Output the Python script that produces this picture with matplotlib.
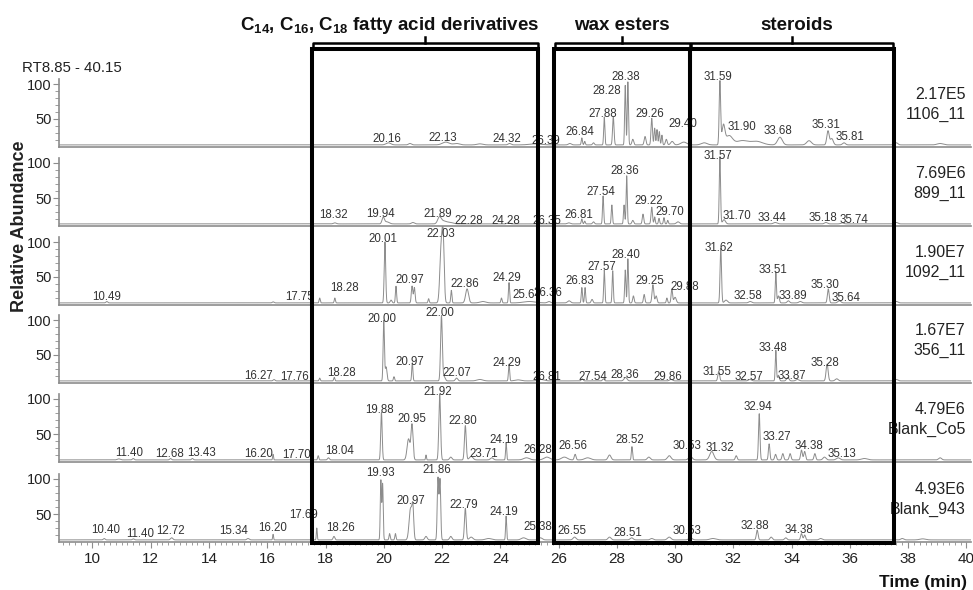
import numpy as np
import matplotlib
matplotlib.use("Agg")
import matplotlib.pyplot as plt
from matplotlib.patches import Rectangle
from matplotlib.ticker import MultipleLocator, FixedLocator

plt.rcParams['font.family'] = ['Liberation Sans', 'DejaVu Sans']
plt.rcParams['mathtext.fontset'] = 'custom'
plt.rcParams['mathtext.rm'] = 'Liberation Sans'
plt.rcParams['mathtext.bf'] = 'Liberation Sans:bold'

# ---------------- data ----------------
sample_names = ["1106_11", "899_11", "1092_11", "356_11", "Blank_Co5", "Blank_943"]
norm_levels = ["2.17E5", "7.69E6", "1.90E7", "1.67E7", "4.79E6", "4.93E6"]

# compound class windows (min)
class_names = [r"$\mathbf{C}_{\mathbf{14}}$, $\mathbf{C}_{\mathbf{16}}$, $\mathbf{C}_{\mathbf{18}}$ fatty acid derivatives",
               "wax esters", "steroids"]
class_start = [17.55, 25.84, 30.53]
class_end = [25.31, 30.53, 37.51]

# peaks: (retention time, height above baseline, width)
peaks_1106 = [(20.16, 3, 0.08), (20.9, 2, 0.05), (22.13, 4, 0.12), (22.5, 2, 0.1), (23.3, 1.5, 0.1),
              (24.32, 2, 0.05), (25.2, 1.5, 0.2), (26.39, 2, 0.05), (26.80, 10, 0.02), (26.9, 5, 0.02),
              (27.2, 3, 0.03), (27.57, 40, 0.02), (27.88, 40, 0.025), (28.29, 85, 0.02), (28.38, 90, 0.02),
              (28.55, 8, 0.03), (28.97, 12, 0.03), (29.20, 38, 0.025), (29.3, 24, 0.02), (29.38, 22, 0.02),
              (29.46, 19, 0.02), (29.55, 14, 0.02), (29.7, 8, 0.03), (29.9, 5, 0.05), (30.3, 4, 0.1),
              (31.0, 3, 0.1), (31.54, 90, 0.025), (31.66, 26, 0.05), (31.85, 13, 0.12), (32.3, 6, 0.2),
              (32.8, 5, 0.2), (33.6, 11, 0.08), (34.6, 6, 0.08), (35.25, 20, 0.04), (35.38, 9, 0.05),
              (35.8, 3, 0.05), (37.6, 3, 0.05), (39.1, 2, 0.1)]
peaks_899 = [(18.32, 1.5, 0.05), (19.98, 9, 0.04), (20.1, 3, 0.08), (21.0, 2, 0.05), (21.91, 9, 0.06),
             (22.05, 4, 0.1), (22.28, 2, 0.1), (24.28, 1.5, 0.05), (26.35, 1.5, 0.05), (26.80, 7, 0.02),
             (26.9, 4, 0.02), (27.2, 3, 0.03), (27.53, 40, 0.02), (27.83, 27, 0.02), (28.25, 27, 0.02),
             (28.34, 69, 0.02), (28.55, 5, 0.03), (28.90, 14, 0.025), (29.20, 24, 0.025), (29.3, 10, 0.02),
             (29.45, 8, 0.02), (29.62, 9, 0.02), (29.75, 5, 0.02), (30.1, 3, 0.05), (31.54, 96, 0.022),
             (31.68, 6, 0.05), (33.44, 2, 0.06), (35.18, 2, 0.05), (35.74, 1.5, 0.05), (37.6, 2, 0.05)]
peaks_1092 = [(10.49, 2, 0.03), (16.2, 1.5, 0.03), (17.8, 7, 0.02), (18.32, 7, 0.02), (20.04, 87, 0.025),
              (20.25, 4, 0.03), (20.42, 24, 0.02), (20.97, 24, 0.025), (21.05, 22, 0.025), (21.54, 6, 0.02),
              (21.97, 78, 0.045), (22.04, 82, 0.035), (22.32, 18, 0.02), (22.86, 20, 0.05), (23.4, 2, 0.1),
              (24.04, 7, 0.02), (24.30, 29, 0.02), (25.0, 2, 0.2), (25.67, 2, 0.05), (26.36, 3, 0.05),
              (26.80, 22, 0.02), (26.91, 22, 0.02), (27.15, 5, 0.03), (27.57, 47, 0.02), (27.86, 46, 0.02),
              (28.29, 47, 0.02), (28.38, 63, 0.02), (28.57, 10, 0.025), (28.94, 12, 0.025), (29.24, 26, 0.03),
              (29.35, 10, 0.03), (29.72, 7, 0.02), (29.89, 20, 0.025), (30.0, 8, 0.04), (31.57, 78, 0.025),
              (31.75, 4, 0.05), (32.58, 2, 0.05), (33.46, 44, 0.02), (33.55, 10, 0.03), (33.89, 3, 0.04),
              (34.3, 2, 0.05), (35.26, 20, 0.03), (35.64, 3, 0.05), (37.6, 2, 0.05)]
peaks_356 = [(16.23, 2, 0.03), (17.8, 4, 0.02), (18.3, 5, 0.02), (20.0, 86, 0.022), (20.08, 20, 0.03),
             (20.35, 6, 0.02), (20.98, 26, 0.02), (21.98, 93, 0.03), (22.07, 6, 0.04), (22.5, 4, 0.04),
             (23.3, 2, 0.1), (24.30, 24, 0.02), (24.6, 1.5, 0.1), (25.4, 2, 0.1), (26.81, 3, 0.03),
             (27.54, 3, 0.03), (28.3, 5, 0.05), (29.86, 2, 0.05), (31.5, 14, 0.03), (32.57, 2, 0.05),
             (33.46, 44, 0.02), (33.55, 8, 0.03), (33.87, 5, 0.04), (34.2, 2, 0.05), (35.22, 24, 0.035),
             (35.55, 3, 0.05), (37.6, 2, 0.05)]
peaks_co5 = [(10.9, 1.5, 0.05), (11.40, 2, 0.03), (12.68, 2, 0.03), (13.43, 2, 0.03), (16.20, 8, 0.015),
             (17.75, 6, 0.02), (18.1, 3, 0.03), (19.92, 68, 0.025), (20.85, 30, 0.05), (20.97, 50, 0.035),
             (21.45, 7, 0.015), (21.92, 94, 0.03), (22.3, 4, 0.04), (22.80, 49, 0.03), (23.0, 5, 0.06),
             (23.71, 3, 0.05), (24.20, 25, 0.018), (24.9, 3, 0.1), (25.6, 4, 0.1), (26.2, 4, 0.1),
             (26.57, 8, 0.03), (27.0, 3, 0.1), (27.75, 7, 0.05), (28.52, 19, 0.02), (29.1, 4, 0.05),
             (29.8, 6, 0.06), (30.53, 5, 0.06), (31.26, 12, 0.07), (32.1, 6, 0.03), (32.89, 66, 0.025),
             (33.23, 23, 0.025), (33.45, 8, 0.03), (33.7, 9, 0.03), (33.95, 9, 0.03), (34.34, 14, 0.03),
             (34.45, 12, 0.03), (34.8, 9, 0.03), (35.13, 4, 0.05), (35.6, 3, 0.06), (36.5, 2, 0.1),
             (39.1, 3, 0.05)]
peaks_943 = [(10.40, 2, 0.03), (11.40, 1.5, 0.03), (12.72, 3, 0.04), (15.34, 2, 0.04), (16.20, 8, 0.015),
             (17.70, 17, 0.015), (18.29, 5, 0.03), (19.90, 85, 0.02), (19.96, 80, 0.02), (20.2, 9, 0.02),
             (20.4, 9, 0.02), (20.92, 45, 0.05), (21.0, 40, 0.03), (21.45, 5, 0.04), (21.86, 88, 0.025),
             (21.93, 86, 0.025), (22.3, 5, 0.04), (22.80, 45, 0.03), (23.0, 4, 0.06), (23.6, 2, 0.1),
             (24.20, 34, 0.018), (24.8, 3, 0.08), (25.38, 3, 0.06), (26.55, 4, 0.05), (27.75, 4, 0.05),
             (28.51, 3, 0.05), (29.2, 2, 0.05), (29.8, 4, 0.06), (30.53, 3, 0.06), (31.3, 2, 0.1),
             (32.82, 14, 0.03), (33.3, 4, 0.04), (33.8, 3, 0.04), (34.34, 9, 0.03), (34.45, 7, 0.03),
             (35.0, 2, 0.05), (37.8, 2, 0.05), (38.5, 1.5, 0.1)]

# peak labels (retention time text)
labels_1106 = ["20.16", "22.13", "24.32", "26.39", "26.84", "27.88", "28.28", "28.38", "29.26", "29.40",
               "31.59", "31.90", "33.68", "35.31", "35.81"]
labels_899 = ["18.32", "19.94", "21.89", "22.28", "24.28", "26.35", "26.81", "27.54", "28.36", "29.22",
              "29.70", "31.57", "31.70", "33.44", "35.18", "35.74"]
labels_1092 = ["10.49", "17.75", "18.28", "20.01", "20.97", "22.03", "22.86", "24.29", "25.67", "26.36",
               "26.83", "27.57", "28.40", "29.25", "29.88", "31.62", "32.58", "33.51", "33.89", "35.30", "35.64"]
labels_356 = ["16.27", "17.76", "18.28", "20.00", "20.97", "22.00", "22.07", "24.29", "26.81", "27.54",
              "28.36", "29.86", "31.55", "32.57", "33.48", "33.87", "35.28"]
labels_co5 = ["11.40", "12.68", "13.43", "16.20", "17.70", "18.04", "19.88", "20.95", "21.92", "22.80",
              "23.71", "24.19", "26.28", "26.56", "28.52", "30.53", "31.32", "32.94", "33.27", "34.38", "35.13"]
labels_943 = ["10.40", "11.40", "12.72", "15.34", "16.20", "17.69", "18.26", "19.93", "20.97", "21.86",
              "22.79", "24.19", "25.38", "26.55", "28.51", "30.53", "32.88", "34.38"]

# ---------------- layout ----------------
# where each peak label sits (x in min, y in axis units)
labelpos_1106 = [(20.10, 21), (22.04, 23), (24.22, 21), (25.56, 19), (26.74, 32), (27.51, 57), (27.65, 90),
                 (28.31, 110), (29.14, 57), (30.26, 43), (31.46, 110), (32.29, 38), (33.54, 33), (35.18, 41),
                 (36.0, 24)]
labelpos_899 = [(18.27, 25), (19.90, 27), (21.84, 27), (22.92, 17), (24.18, 17), (25.61, 17), (26.71, 25),
                (27.46, 58), (28.26, 88), (29.11, 45), (29.83, 30), (31.46, 110), (32.14, 24), (33.32, 22),
                (35.07, 21), (36.15, 18)]
labelpos_1092 = [(10.49, 22), (17.12, 22), (18.64, 34), (19.96, 105), (20.90, 46), (21.96, 112), (22.79, 40),
                 (24.22, 48), (24.91, 24), (25.63, 27), (26.74, 45), (27.48, 65), (28.31, 81), (29.14, 45),
                 (30.32, 35), (31.51, 92), (32.49, 23), (33.37, 60), (34.04, 23), (35.15, 38), (35.87, 20)]
labelpos_356 = [(15.69, 20), (16.95, 18), (18.55, 25), (19.93, 102), (20.90, 40), (21.93, 110), (22.52, 24),
                (24.22, 39), (25.59, 18), (27.17, 19), (28.26, 22), (29.75, 18), (31.45, 26), (32.55, 18),
                (33.37, 60), (34.0, 20), (35.15, 39)]
labelpos_co5 = [(11.26, 23), (12.64, 21), (13.75, 23), (15.69, 21), (17.01, 20), (18.50, 25), (19.85, 84),
                (20.98, 71), (21.87, 110), (22.73, 68), (23.42, 22), (24.13, 42), (25.30, 27), (26.48, 33),
                (28.43, 41), (30.40, 33), (31.54, 30), (32.83, 88), (33.49, 45), (34.61, 33), (35.72, 21)]
labelpos_943 = [(10.46, 27), (11.63, 22), (12.68, 26), (14.86, 25), (16.19, 30), (17.26, 49), (18.50, 30),
                (19.87, 108), (20.92, 69), (21.82, 113), (22.73, 63), (24.13, 53), (25.30, 32), (26.45, 26),
                (28.39, 23), (30.40, 26), (32.74, 33), (34.26, 27)]

all_peaks = [peaks_1106, peaks_899, peaks_1092, peaks_356, peaks_co5, peaks_943]
all_labels = [labels_1106, labels_899, labels_1092, labels_356, labels_co5, labels_943]
all_labelpos = [labelpos_1106, labelpos_899, labelpos_1092, labelpos_356, labelpos_co5, labelpos_943]

W_PX, H_PX = 973, 590
X0, X1 = 8.85, 40.15
AX_LEFT, AX_RIGHT = 59, 970.7
PANEL_BOTTOMS = [147, 226, 305, 383, 462, 542]
PANEL_H = 79
PX_PER_UNIT = 0.7
Y0 = 10
BASE = 13
GREY = "#8c8c8c"

fig = plt.figure(figsize=(W_PX / 100, H_PX / 100), dpi=100)

t = np.linspace(X0, X1, 9000)


def make_trace(peaks):
    y = np.full_like(t, BASE, dtype=float)
    for rt, h, w in peaks:
        y += h * np.exp(-0.5 * ((t - rt) / w) ** 2)
    return y


L = AX_LEFT / W_PX
Wd = (AX_RIGHT - AX_LEFT) / W_PX
for i, bottom in enumerate(PANEL_BOTTOMS):
    ax = fig.add_axes([L, 1 - bottom / H_PX, Wd, PANEL_H / H_PX])
    ax.set_xlim(X0, X1)
    ax.set_ylim(Y0, Y0 + PANEL_H / PX_PER_UNIT)
    ax.patch.set_alpha(0)
    ax.plot(t, make_trace(all_peaks[i]), color=GREY, lw=0.7)
    for txt, (lx, ly) in zip(all_labels[i], all_labelpos[i]):
        ax.text(lx, ly, txt, ha="center", va="center", fontsize=8.3, color="#333333", clip_on=False)
    ax.text(39.98, 85, norm_levels[i], ha="right", va="center", fontsize=11.5, color="#222222")
    ax.text(39.98, 57, sample_names[i], ha="right", va="center", fontsize=11.5, color="#222222")

    for s in ["top", "right"]:
        ax.spines[s].set_visible(False)
    for s in ["left", "bottom"]:
        ax.spines[s].set_color(GREY)
        ax.spines[s].set_linewidth(1.2)
    ax.spines["left"].set_bounds(Y0, 107)
    ax.yaxis.set_major_locator(FixedLocator([50, 100]))
    ax.yaxis.set_minor_locator(FixedLocator([20, 30, 40, 60, 70, 80, 90]))
    ax.tick_params(axis="y", which="major", length=4, color=GREY, labelsize=10.5, pad=1.5, labelcolor="#222222")
    ax.tick_params(axis="y", which="minor", length=3, color=GREY)
    if i < len(PANEL_BOTTOMS) - 1:
        ax.tick_params(axis="x", which="both", length=0, labelbottom=False)
    else:
        ax.xaxis.set_major_locator(MultipleLocator(2))
        ax.xaxis.set_minor_locator(MultipleLocator(0.2))
        ax.set_xticks(np.arange(10, 41, 2))
        ax.tick_params(axis="x", which="major", length=4, color=GREY, labelsize=11, pad=3, labelcolor="#222222")
        ax.tick_params(axis="x", which="minor", length=2, color=GREY)

# overlay for the compound class boxes and brackets (y in pixels from top)
ov = fig.add_axes([L, 0, Wd, 1], zorder=10)
ov.set_xlim(X0, X1)
ov.set_ylim(H_PX, 0)
ov.axis("off")
ov.patch.set_alpha(0)

box_top, box_bottom = 48.5, 543
bracket_y, tick_top = 43.3, 36.7
text_x = [20.21, 28.17, 34.17]
for name, a, b, tx in zip(class_names, class_start, class_end, text_x):
    ov.add_patch(Rectangle((a, box_top), b - a, box_bottom - box_top, fill=False,
                           edgecolor="black", lw=2.9, joinstyle="miter"))
    ov.plot([a + 0.03, a + 0.03, b - 0.03, b - 0.03], [box_top, bracket_y, bracket_y, box_top],
            color="black", lw=1.8, solid_joinstyle="round")
    mid = (a + b) / 2
    ov.plot([mid, mid], [bracket_y, tick_top], color="black", lw=1.8)
    ov.text(tx, 25, name, ha="center", va="center", fontsize=13.5, fontweight="bold", color="#111111")

fig.text(21.7 / W_PX, 1 - 68 / H_PX, "RT8.85 - 40.15", ha="left", va="center", fontsize=10.8, color="#222222")
fig.text(20 / W_PX, 1 - 226 / H_PX, "Relative Abundance", rotation=90, ha="center", va="center",
         fontsize=13, fontweight="bold", color="#222222")
fig.text(967 / W_PX, 1 - 582 / H_PX, "Time (min)", ha="right", va="center",
         fontsize=12.5, fontweight="bold", color="#111111")

fig.savefig("out.png", dpi=100)
